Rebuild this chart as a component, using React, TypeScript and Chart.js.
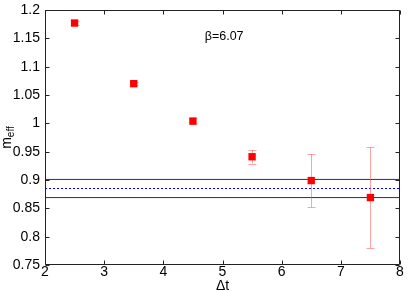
import React, { useEffect, useRef } from "react";
import { Chart, registerables } from "chart.js";

Chart.register(...registerables);

const deltaT = [2.5, 3.5, 4.5, 5.5, 6.5, 7.5];
const mEff = [1.177, 1.07, 1.004, 0.941, 0.899, 0.869];
const mErr = [0.003, 0.003, 0.005, 0.012, 0.047, 0.089];
const fitUpper = 0.901;
const fitCentral = 0.885;
const fitLower = 0.869;
const xRange = [2, 8];
const yRange = [0.75, 1.2];
const annotationText = "β=6.07";
const annotationPos = [4.7, 1.147];

const FONT = '"Liberation Sans", Arial, sans-serif';

function fmt(v: number) {
  return String(Math.round(v * 100) / 100);
}

const framePlugin = {
  id: "framePlugin",
  beforeDatasetDraw(chart: any, args: any) {
    if (args.index !== 0) return;
    const ctx = chart.ctx;
    const xs = chart.scales.x;
    const ys = chart.scales.y;
    ctx.save();
    ctx.strokeStyle = "rgba(255,90,90,0.55)";
    ctx.lineWidth = 1;
    for (let i = 0; i < deltaT.length; i++) {
      const px = Math.round(xs.getPixelForValue(deltaT[i])) + 0.5;
      const top = ys.getPixelForValue(mEff[i] + mErr[i]);
      const bot = ys.getPixelForValue(mEff[i] - mErr[i]);
      ctx.beginPath();
      ctx.moveTo(px, top);
      ctx.lineTo(px, bot);
      ctx.moveTo(px - 4, Math.round(top) + 0.5);
      ctx.lineTo(px + 4, Math.round(top) + 0.5);
      ctx.moveTo(px - 4, Math.round(bot) + 0.5);
      ctx.lineTo(px + 4, Math.round(bot) + 0.5);
      ctx.stroke();
    }
    ctx.restore();
  },
  afterDraw(chart: any) {
    const ctx = chart.ctx;
    const xs = chart.scales.x;
    const ys = chart.scales.y;
    const a = chart.chartArea;
    const L = a.left + 0.5, R = a.right - 0.5, T = a.top + 0.5, B = a.bottom - 0.5;
    ctx.save();
    ctx.strokeStyle = "#222";
    ctx.lineWidth = 1;
    ctx.beginPath();
    ctx.rect(L, T, R - L, B - T);
    const tl = 4;
    for (const t of ys.ticks) {
      const py = Math.round(ys.getPixelForValue(t.value)) + 0.5;
      ctx.moveTo(L, py);
      ctx.lineTo(L + tl, py);
      ctx.moveTo(R, py);
      ctx.lineTo(R - tl, py);
    }
    for (const t of xs.ticks) {
      const px = Math.round(xs.getPixelForValue(t.value)) + 0.5;
      ctx.moveTo(px, B);
      ctx.lineTo(px, B - tl);
      ctx.moveTo(px, T);
      ctx.lineTo(px, T + tl);
    }
    ctx.stroke();

    ctx.fillStyle = "#000";
    ctx.font = `14px ${FONT}`;
    ctx.textAlign = "right";
    ctx.textBaseline = "alphabetic";
    for (const t of ys.ticks) {
      const py = ys.getPixelForValue(t.value);
      ctx.fillText(fmt(t.value), a.left - 5, py + 4);
    }
    ctx.textAlign = "center";
    for (const t of xs.ticks) {
      const px = xs.getPixelForValue(t.value);
      ctx.fillText(fmt(t.value), px, a.bottom + 11);
    }
    // x title
    ctx.fillText("Δt", (a.left + a.right) / 2, 289.5);

    // y title m_eff
    ctx.save();
    const cy = (a.top + a.bottom) / 2;
    ctx.font = `14px ${FONT}`;
    const mw = ctx.measureText("m").width;
    ctx.font = `10px ${FONT}`;
    const ew = ctx.measureText("eff").width;
    const total = mw + ew;
    ctx.translate(10.5, cy + total / 2);
    ctx.rotate(-Math.PI / 2);
    ctx.textAlign = "left";
    ctx.font = `14px ${FONT}`;
    ctx.fillText("m", 0, 0);
    ctx.font = `10px ${FONT}`;
    ctx.fillText("eff", mw, 3);
    ctx.restore();

    // annotation
    ctx.font = `12.5px ${FONT}`;
    ctx.textAlign = "left";
    ctx.fillText(
      annotationText,
      xs.getPixelForValue(annotationPos[0]),
      ys.getPixelForValue(annotationPos[1])
    );
    ctx.restore();
  },
};

function hLine(v: number) {
  return [
    { x: xRange[0], y: v },
    { x: xRange[1], y: v },
  ];
}

export default function App() {
  const ref = useRef<HTMLCanvasElement | null>(null);
  useEffect(() => {
    document.body.style.margin = "0";
    if (!ref.current) return;
    const chart = new Chart(ref.current, {
      type: "scatter",
      data: {
        datasets: [
          {
            data: deltaT.map((x, i) => ({ x, y: mEff[i] })),
            pointStyle: "rect",
            pointRadius: 5.2,
            pointBorderWidth: 0,
            backgroundColor: "#ff0000",
            borderColor: "#ff0000",
            showLine: false,
          } as any,
          {
            data: hLine(fitCentral),
            showLine: true,
            pointRadius: 0,
            borderColor: "#0000ff",
            borderWidth: 1,
            borderDash: [2, 2],
          },
          {
            data: hLine(fitUpper),
            showLine: true,
            pointRadius: 0,
            borderColor: "#333",
            borderWidth: 1,
          },
          {
            data: hLine(fitLower),
            showLine: true,
            pointRadius: 0,
            borderColor: "#333",
            borderWidth: 1,
          },
        ],
      },
      options: {
        animation: false,
        responsive: false,
        layout: { padding: { top: 10, right: 15, left: 0, bottom: 0 } },
        plugins: { legend: { display: false }, tooltip: { enabled: false } },
        scales: {
          x: {
            type: "linear",
            min: xRange[0],
            max: xRange[1],
            ticks: { display: false, stepSize: 1 },
            grid: { display: false },
            border: { display: false },
            afterFit: (s: any) => {
              s.height = 26;
            },
          },
          y: {
            type: "linear",
            min: yRange[0],
            max: yRange[1],
            ticks: { display: false, stepSize: 0.05 },
            grid: { display: false },
            border: { display: false },
            afterFit: (s: any) => {
              s.width = 45;
            },
          },
        },
      },
      plugins: [framePlugin],
    });
    return () => chart.destroy();
  }, []);
  return (
    <div style={{ width: 415, height: 291 }}>
      <canvas ref={ref} width={415} height={291} style={{ display: "block" }} />
    </div>
  );
}
